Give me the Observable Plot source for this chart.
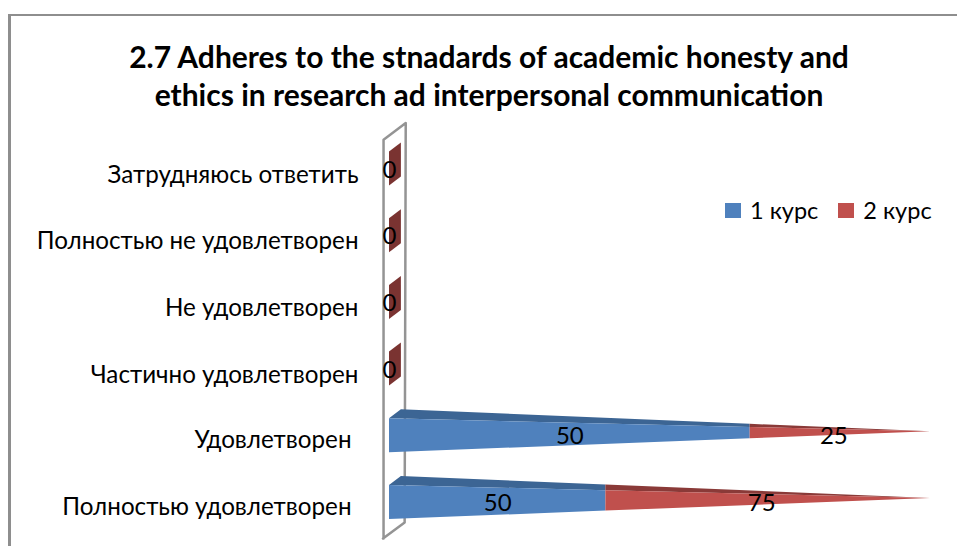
<!DOCTYPE html>
<html><head><meta charset="utf-8">
<script src="https://cdn.jsdelivr.net/npm/d3@7"></script>
<script src="https://cdn.jsdelivr.net/npm/@observablehq/plot@0.6"></script>
<style>
html,body{margin:0;padding:0;background:#fff;overflow:hidden}
#frame{position:absolute;left:8px;top:14px;width:949px;height:532px;border-top:2px solid #8e8e8e;border-left:3px solid #8e8e8e;box-sizing:border-box}
#title{position:absolute;left:0;top:37px;width:978px;text-align:center;font:700 30px/38px Lato,sans-serif;color:#000}
#chart{position:absolute;left:0;top:0}
#legend{position:absolute;left:725px;top:196px;display:flex;font:23.5px/28px Lato,sans-serif;color:#000}
#legend span{display:inline-flex;align-items:center}
#legend i{display:inline-block;width:16px;height:15px;margin-right:9px}
#legend span+span{margin-left:20px}
</style></head><body>
<div id="frame"></div>
<div id="title">2.7 Adheres to the stnadards of academic honesty and<br>ethics in research ad interpersonal communication</div>
<div id="chart"></div>
<div id="legend"></div>
<script>
const categories = ["Полностью удовлетворен","Удовлетворен","Частично удовлетворен","Не удовлетворен","Полностью не удовлетворен","Затрудняюсь ответить"];
const course1 = [50,50,0,0,0,0];
const course2 = [75,25,0,0,0,0];
const seriesNames = ["1 курс","2 курс"];
const front = ["#4f81bd","#c0504d"];
const top_ = ["#3c6594","#8a3a38"];
const zeroFill = "#7a3331";

// 3-D look, in data units
const halfDepth = .255, depthX = 2.2, depthY = .135, tipRise = .06;
const frontTop = (i,v) => i + halfDepth*(1-v/100) + tipRise*v/100;
const frontBot = (i,v) => i - halfDepth*(1-v/100) + tipRise*v/100;
const backTop = (i,v) => {
  const t = (v-depthX)/(100-depthX);
  return i + (halfDepth+depthY)*(1-t) + tipRise*t;
};
const segments = [], tops = [], labels = [], zeros = [];
categories.forEach((c,i)=>{
  const total = course1[i]+course2[i];
  if (!total) {
    zeros.push({i,x:0,y1:i-halfDepth,y2:i+halfDepth},{i,x:depthX,y1:i-halfDepth+depthY,y2:i+halfDepth+depthY});
    labels.push({i,x:0,text:"0"});
    return;
  }
  const share = course1[i]/total*100;
  [[0,share,0],[share,100,1]].forEach(([a,b,s])=>{
    const key = i+"-"+s;
    [a,b].forEach(v=>segments.push({key,s,x:v,y1:frontBot(i,v),y2:frontTop(i,v)}));
    const xs = s===0 ? [0,depthX,b] : [a,b];
    xs.forEach(v=>tops.push({key,s,x:v,y1:frontTop(i,v),y2:v<depthX ? frontTop(i,0)+depthY*v/depthX : backTop(i,v)}));
    labels.push({i,x:(a+b)/2-(s?1.2:0),text:String(s===0?course1[i]:course2[i])});
  });
});
const wall = [{x:-1.1,y:-.54},{x:-1.1,y:5.44},{x:3,y:5.69},{x:2.8,y:-.3},{x:-1.2,y:-.54}];

const font = "Lato, sans-serif";
const plot = Plot.plot({
  width:957,height:546,marginLeft:389,marginRight:27,marginTop:0,marginBottom:0,
  x:{domain:[0,100],axis:null},
  y:{domain:[0,5],range:[502,168.5],axis:null},
  style:{background:"transparent",fontFamily:font,overflow:"visible"},
  marks:[
    Plot.line(wall,{x:"x",y:"y",stroke:"#949494",strokeWidth:2.5}),
    Plot.area(tops,{x1:"x",y1:"y1",y2:"y2",z:"key",fill:d=>top_[d.s]}),
    Plot.area(segments,{x1:"x",y1:"y1",y2:"y2",z:"key",fill:d=>front[d.s]}),
    Plot.area(zeros,{x1:"x",y1:"y1",y2:"y2",z:"i",fill:zeroFill}),
    Plot.text(labels,{x:"x",y:"i",text:"text",fontSize:24,dy:1,fill:"#000"}),
    Plot.axisY([2,3,4,5],{tickSize:0,tickPadding:31,dy:6,tickFormat:i=>categories[i],fontSize:24.2,label:null,color:"#000"}),
    Plot.axisY([0,1],{tickSize:0,tickPadding:38,dy:4.5,tickFormat:i=>categories[i],fontSize:24.2,label:null,color:"#000"})
  ]
});
document.getElementById("chart").append(plot);
document.getElementById("legend").innerHTML = seriesNames.map((n,k)=>`<span><i style="background:${front[k]}"></i>${n}</span>`).join("");
</script>
</body></html>
